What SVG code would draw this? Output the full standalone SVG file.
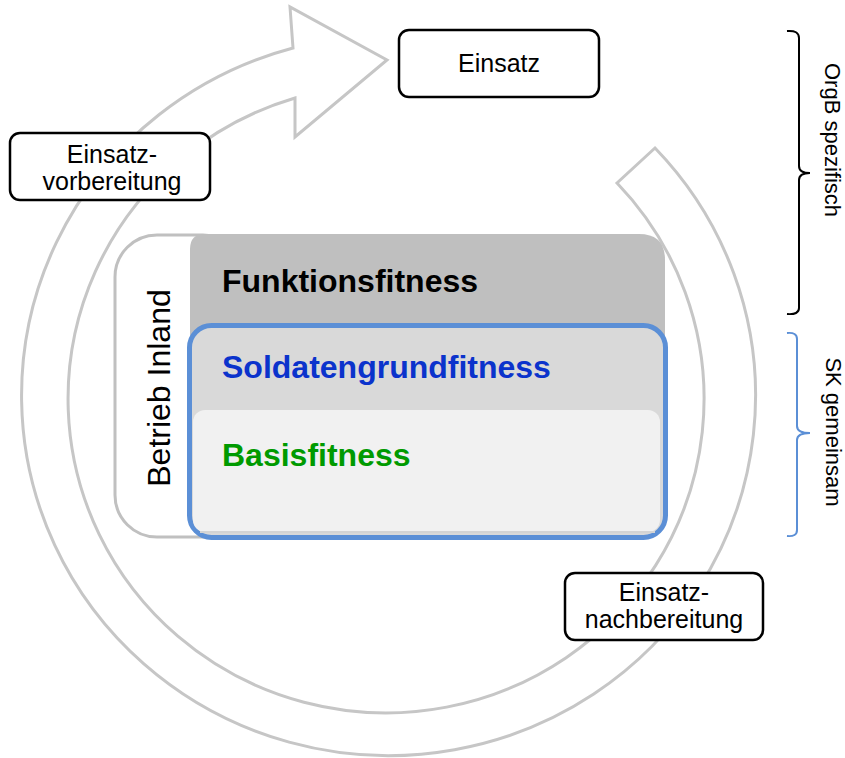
<svg xmlns="http://www.w3.org/2000/svg" width="845" height="758" viewBox="0 0 845 758">
<style>
  text { font-family: "Liberation Sans", Arial, sans-serif; }
  .lbl rect { fill: #fff; stroke: #000; stroke-width: 2.5; }
  .lbl text { font-size: 25px; fill: #000; text-anchor: middle; }
  .big { font-size: 32px; font-weight: bold; }
  .side { font-size: 22px; fill: #000; text-anchor: middle; }
</style>
<rect width="845" height="758" fill="#fff"/>
<g id="cycle">
  <path d="M655,148 A367,360 0 1 1 293,48 L290,7 L387,60 L295,137 L295,98 A318,314 0 1 0 617,183 Z" fill="#fff" stroke="#c6c6c6" stroke-width="3"/>
</g>
<g id="betrieb-inland">
  <rect x="115" y="235" width="130" height="302" rx="42" fill="#fff" stroke="#c0c0c0" stroke-width="3"/>
  <text x="170" y="388" transform="rotate(-90 170 388)" font-size="32" text-anchor="middle" fill="#000">Betrieb Inland</text>
</g>
<g id="funktionsfitness">
  <path d="M190,249 Q190,234 205,234 L639,234 Q665,234 665,260 L665,434 L190,434 Z" fill="#bfbfbf"/>
  <text class="big" x="222" y="292" fill="#000">Funktionsfitness</text>
</g>
<g id="soldatengrundfitness">
  <rect x="189.5" y="325.5" width="476" height="212" rx="22" fill="#d9d9d9" stroke="#5b8fd6" stroke-width="5"/>
  <text class="big" x="222" y="378" fill="#0b33cc">Soldatengrundfitness</text>
</g>
<g id="basisfitness">
  <rect x="193" y="410" width="467" height="122" rx="12" fill="#f1f1f1"/>
  <line x1="200" y1="532" x2="655" y2="532" stroke="#d4d4d4" stroke-width="2"/>
  <text class="big" x="222" y="466" fill="#009a00">Basisfitness</text>
</g>
<g id="einsatz" class="lbl">
  <rect x="399" y="30" width="200" height="67" rx="10"/>
  <text x="499" y="72">Einsatz</text>
</g>
<g id="einsatz-vorbereitung" class="lbl">
  <rect x="10" y="133" width="200" height="67" rx="10"/>
  <text x="112" y="163">Einsatz-</text>
  <text x="112" y="190">vorbereitung</text>
</g>
<g id="einsatz-nachbereitung" class="lbl">
  <rect x="565" y="573" width="198" height="67" rx="10"/>
  <text x="664" y="601">Einsatz-</text>
  <text x="664" y="628">nachbereitung</text>
</g>
<g id="connectors" fill="none" stroke-width="2">
  <path d="M787,31 Q799,30 799,38 L799,166 Q799,173 810,173 Q799,173 799,180 L799,308 Q799,315 787,314" stroke="#000"/>
  <path d="M787,333 Q797,332 797,339 L797,426 Q797,433 810,433 Q797,433 797,440 L797,530 Q797,537 787,536" stroke="#5b8fd6"/>
</g>
<g id="brace-labels">
  <text class="side" x="825" y="140" transform="rotate(90 825 140)">OrgB spezifisch</text>
  <text class="side" x="826" y="432" transform="rotate(90 826 432)">SK gemeinsam</text>
</g>
</svg>
